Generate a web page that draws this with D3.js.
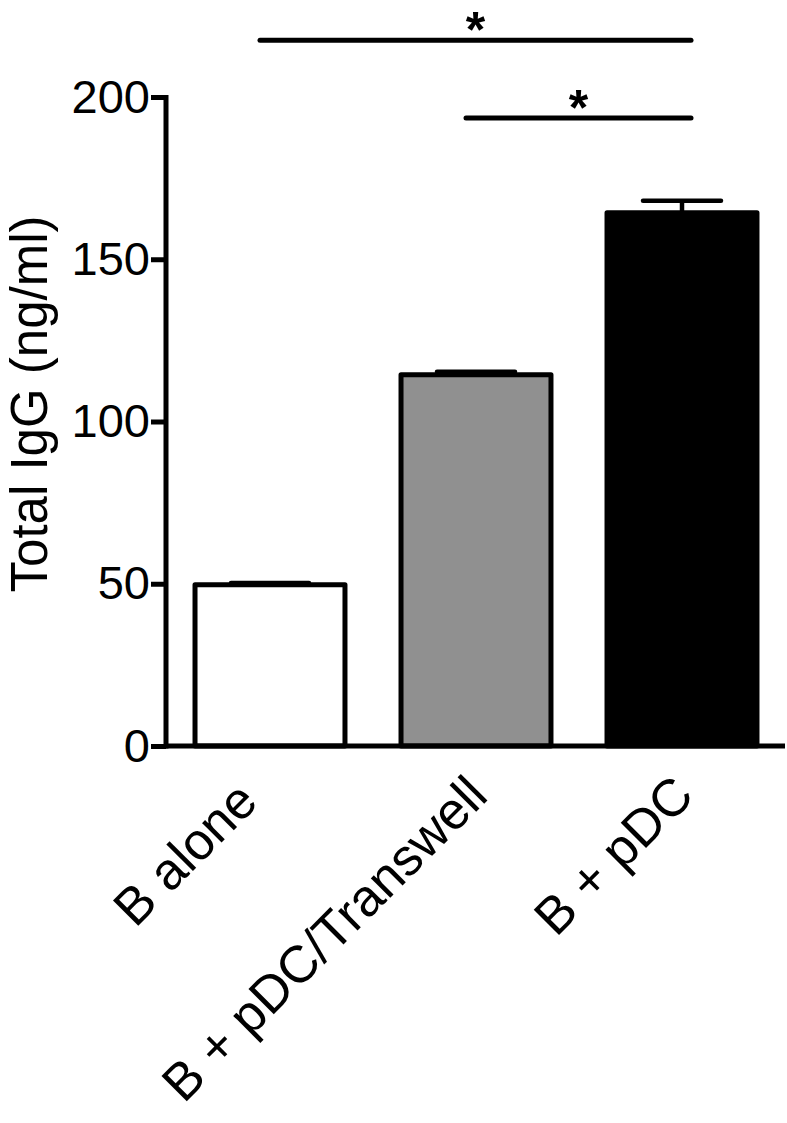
<!DOCTYPE html>
<html>
<head>
<meta charset="utf-8">
<script src="https://cdn.jsdelivr.net/npm/d3@7"></script>
<style>
  body { margin: 0; background: #fff; }
  text { font-family: "Liberation Sans", Arial, Helvetica, sans-serif; }
</style>
</head>
<body>
<div id="chart"></div>
<script>
// data
const categories = ["B alone", "B + pDC/Transwell", "B + pDC"];
const means = [49.7, 114.4, 164.3];
const errors = [0.5, 0.9, 3.7];
const fills = ["#ffffff", "#909090", "#000000"];
const yTicks = [0, 50, 100, 150, 200];
const yLabel = "Total IgG (ng/ml)";
// significance brackets: from, to, height in data units, label
const sigFrom = ["B alone", "B + pDC/Transwell"];
const sigTo = ["B + pDC", "B + pDC"];
const sigLevel = [217.5, 193.5];
const sigLabel = ["*", "*"];

function main() {
    let width = 787;
    let height = 1123;

    let svg = d3.select("#chart").append("svg")
        .attr("width", width)
        .attr("height", height);

    // scales
    let y = d3.scaleLinear().domain([0, 200]).range([746, 97]);
    let x = d3.scaleBand()
        .domain(categories)
        .range([167, 785])
        .paddingInner(0.272)
        .paddingOuter(0.136);

    let bars = categories.map((c, i) => ({name: c, mean: means[i], err: errors[i], fill: fills[i]}));

    // error bars (upper only, drawn behind the bars)
    let errG = svg.append("g");
    bars.forEach((d) => {
        let cx = x(d.name) + x.bandwidth() / 2;
        errG.append("line")
            .attr("x1", cx).attr("x2", cx)
            .attr("y1", y(d.mean)).attr("y2", y(d.mean + d.err))
            .attr("stroke", "#000").attr("stroke-width", 4.5);
        errG.append("line")
            .attr("x1", cx - x.bandwidth() * 0.26).attr("x2", cx + x.bandwidth() * 0.26)
            .attr("y1", y(d.mean + d.err)).attr("y2", y(d.mean + d.err))
            .attr("stroke", "#000").attr("stroke-width", 4.5)
            .attr("stroke-linecap", "round");
    });

    // bars
    svg.append("g")
        .selectAll("rect")
        .data(bars)
        .enter()
        .append("rect")
            .attr("x", (d) => x(d.name))
            .attr("y", (d) => y(d.mean))
            .attr("width", x.bandwidth())
            .attr("height", (d) => y(0) - y(d.mean))
            .attr("fill", (d) => d.fill)
            .attr("stroke", "#000")
            .attr("stroke-width", 5)
            .attr("stroke-linejoin", "round");

    // y axis
    let yAxis = svg.append("g")
        .attr("transform", "translate(166,0)")
        .call(d3.axisLeft(y).tickValues(yTicks).tickSize(15).tickSizeOuter(0).tickPadding(1));
    yAxis.select(".domain").attr("stroke-width", 5).attr("d", "M0," + (y(200) - 2) + "V" + (y(0) + 2.5));
    yAxis.selectAll(".tick line").attr("stroke-width", 5);
    yAxis.selectAll(".tick text")
        .attr("font-size", 47)
        .attr("fill", "#000")
        .style("font-family", "'Liberation Sans', Arial, sans-serif");

    // x axis baseline
    svg.append("line")
        .attr("x1", 166).attr("x2", 785)
        .attr("y1", y(0)).attr("y2", y(0))
        .attr("stroke", "#000").attr("stroke-width", 5);

    // category labels, rotated; the first one sits a bit further left in the original
    svg.append("g")
        .selectAll("text")
        .data(categories)
        .enter()
        .append("text")
            .attr("transform", (d, i) => {
                let ax = x(d) + x.bandwidth() / 2 + (i == 0 ? -10 : 14);
                let ay = i == 0 ? 804 : 798;
                return "translate(" + ax + "," + ay + ") rotate(-45)";
            })
            .attr("text-anchor", "end")
            .attr("font-size", 52)
            .text((d) => d);

    // y axis title
    svg.append("text")
        .attr("transform", "translate(47,404) rotate(-90)")
        .attr("text-anchor", "middle")
        .attr("font-size", 51)
        .text(yLabel);

    // significance bars
    sigFrom.forEach((f, i) => {
        let x1 = x(f) + x.bandwidth() / 2 - 10;
        let x2 = x(sigTo[i]) + x.bandwidth() / 2 + 9;
        let yy = y(sigLevel[i]);
        svg.append("line")
            .attr("x1", x1).attr("x2", x2)
            .attr("y1", yy).attr("y2", yy)
            .attr("stroke", "#000").attr("stroke-width", 5)
            .attr("stroke-linecap", "round");
        svg.append("text")
            .attr("x", (x1 + x2) / 2)
            .attr("y", yy + 7)
            .attr("text-anchor", "middle")
            .attr("font-size", 50)
            .attr("font-weight", "bold")
            .text(sigLabel[i]);
    });
}

window.onload = () => {
    main();
}
</script>
</body>
</html>
